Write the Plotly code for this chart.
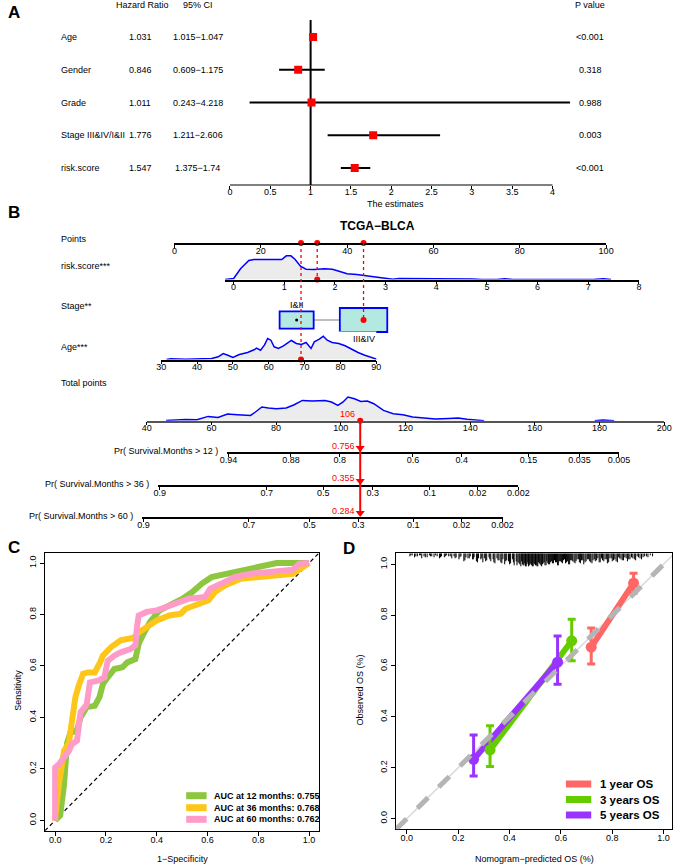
import plotly.graph_objects as go

W, H = 685, 866
FONT = "Liberation Sans, Arial, Helvetica, sans-serif"


def fx(p):
    return p / W


def fy(p):
    return 1 - p / H


# ======================= DATA =======================
# ---- Panel A: multivariate Cox forest plot ----
forest_vars = ["Age", "Gender", "Grade", "Stage III&IV/I&II", "risk.score"]
forest_hr = [1.031, 0.846, 1.011, 1.776, 1.547]
forest_lo = [1.015, 0.609, 0.243, 1.211, 1.375]
forest_hi = [1.047, 1.175, 4.218, 2.606, 1.74]
forest_p = ["<0.001", "0.318", "0.988", "0.003", "<0.001"]
forest_ticks = [0, 0.5, 1, 1.5, 2, 2.5, 3, 3.5, 4]

# ---- Panel B: nomogram ----
points_ticks = [0, 20, 40, 60, 80, 100]
risk_ticks = [0, 1, 2, 3, 4, 5, 6, 7, 8]
age_ticks = [30, 40, 50, 60, 70, 80, 90]
total_ticks = [40, 60, 80, 100, 120, 140, 160, 180, 200]

risk_dens_x = [-0.18, 0.0, 0.14, 0.30, 0.40, 0.56, 0.72, 0.85, 0.95, 1.04,
               1.13, 1.21, 1.32, 1.43, 1.59, 1.79, 1.95, 2.08, 2.24, 2.43,
               2.62, 2.82, 2.98, 3.14, 3.27, 3.53, 3.8, 4.0, 4.2, 4.5,
               4.7, 4.9, 5.2, 5.35, 5.5, 6.0, 7.1, 7.3, 7.45]
risk_dens_y = [0, 1, 11, 19, 20, 20, 19.7, 19.3, 20, 23.7,
               23.7, 20.3, 13.3, 10.3, 10, 10.7, 10.3, 8.3, 5.7, 5,
               3.7, 3, 1.3, 0.3, 1, 1, 0.3, 0.5, 1, 1,
               0.5, 0, 0, 0.8, 0, 0, 0, 0.8, 0]

age_dens_x = [31.5, 32.7, 36.8, 40.2, 44.1, 45.9, 47.3, 48.6, 50.0, 51.8,
              54.1, 55.9, 56.6, 57.7, 58.8, 59.7, 60.6, 61.5, 62.7, 64.1,
              65.1, 66.3, 67.7, 69.1, 70.4, 71.8, 72.7, 74.1, 75.2, 76.3,
              77.7, 79.5, 81.3, 83.1, 84.9, 86.8, 88.4, 89.5, 90.4]
age_dens_y = [0, 0.7, 0.3, 0.7, 1, 2.7, 6, 4.3, 2, 5,
              7, 9.7, 11.3, 9.3, 14.3, 21, 19.3, 12.7, 11, 13.7,
              16, 19, 16, 15, 17, 11, 17.7, 20.3, 23.3, 19.3,
              17, 16, 13.7, 10.3, 7, 4.3, 2.7, 1, 0]

total_dens_x = [46.0, 52.0, 55.5, 57.0, 59.0, 62.0, 65.0, 68.0, 72.1, 73.6,
                75.6, 77.6, 80.1, 83.1, 85.6, 88.1, 91.1, 95.1, 97.1, 99.1,
                100.7, 102.2, 104.2, 106.2, 108.2, 110.2, 113.2, 116.2, 119.2, 122.2,
                126.2, 129.3, 133.3, 136.3, 139.0, 141.5, 144.3]
total_dens_y = [0.3, 1.3, 1.0, 2.7, 4.3, 3.3, 6.7, 6.0, 5.3, 8.7,
                13.7, 12.7, 12.0, 12.7, 16.0, 20.3, 19.7, 20.3, 18.7, 15.3,
                18.7, 23.7, 22.0, 19.3, 19.7, 17.0, 10.3, 7.0, 6.0, 3.7,
                2.3, 1.7, 2.3, 2.6, 1.5, 0.6, 0.0]
total_tail_x = [178.5, 181.0, 184.5]
total_tail_y = [0.0, 0.6, 0.0]

stage_levels = ["I&II", "III&IV"]
stage_points = [28.3, 43.8]
stage_props = [0.34, 0.66]

obs_risk = 1.65
obs_stage = "III&IV"
obs_age = 69
obs_total = 106

pr_labels = ["Pr( Survival.Months > 12 )", "Pr( Survival.Months > 36 )",
             "Pr( Survival.Months > 60 )"]
pr12_text = ["0.94", "0.88", "0.8", "0.6", "0.4", "0.15", "0.035", "0.005"]
pr12_pts = [65.3, 84.6, 99.7, 122.3, 137.4, 158.0, 173.8, 186.0]
pr36_text = ["0.9", "0.7", "0.5", "0.3", "0.1", "0.02", "0.002"]
pr36_pts = [44.0, 77.1, 94.6, 109.9, 127.5, 142.3, 154.9]
pr60_text = ["0.9", "0.7", "0.5", "0.3", "0.1", "0.02", "0.002"]
pr60_pts = [39.0, 71.6, 90.3, 105.4, 122.4, 137.3, 150.0]
obs_pr = ["0.756", "0.355", "0.284"]

# ---- Panel C: time-dependent ROC ----
roc_names = ["AUC at 12 months: 0.755", "AUC at 36 months: 0.768", "AUC at 60 months: 0.762"]
roc12_fpr = [0, 0.02, 0.03, 0.035, 0.047, 0.06, 0.086, 0.10, 0.124, 0.156,
             0.175, 0.188, 0.207, 0.233, 0.265, 0.284, 0.316, 0.329, 0.348, 0.373,
             0.41, 0.45, 0.50, 0.54, 0.578, 0.616, 0.68, 0.77, 0.872, 1.0]
roc12_tpr = [0, 0.02, 0.10, 0.14, 0.30, 0.34, 0.35, 0.40, 0.44, 0.445,
             0.48, 0.53, 0.556, 0.588, 0.595, 0.614, 0.627, 0.686, 0.725, 0.77,
             0.815, 0.835, 0.86, 0.887, 0.92, 0.945, 0.958, 0.978, 1.0, 1.0]
roc36_fpr = [0, 0.0, 0.015, 0.035, 0.054, 0.066, 0.08, 0.092, 0.11, 0.13,
             0.156, 0.175, 0.188, 0.22, 0.258, 0.31, 0.329, 0.36, 0.40, 0.45,
             0.495, 0.514, 0.546, 0.604, 0.629, 0.668, 0.731, 0.82, 0.936, 1.0]
roc36_tpr = [0, 0.01, 0.14, 0.27, 0.30, 0.40, 0.48, 0.52, 0.57, 0.575,
             0.575, 0.61, 0.64, 0.673, 0.70, 0.71, 0.73, 0.75, 0.777, 0.796,
             0.803, 0.822, 0.835, 0.855, 0.887, 0.913, 0.939, 0.945, 0.958, 1.0]
roc60_fpr = [0, 0.0, 0.015, 0.035, 0.054, 0.066, 0.086, 0.10, 0.124, 0.137,
             0.169, 0.194, 0.207, 0.233, 0.258, 0.297, 0.316, 0.322, 0.329, 0.36,
             0.40, 0.437, 0.488, 0.527, 0.59, 0.61, 0.655, 0.706, 0.77, 0.86,
             0.936, 0.962, 1.0]
roc60_tpr = [0, 0.205, 0.218, 0.244, 0.27, 0.296, 0.31, 0.42, 0.45, 0.536,
             0.543, 0.556, 0.62, 0.64, 0.653, 0.666, 0.68, 0.75, 0.796, 0.81,
             0.816, 0.829, 0.848, 0.861, 0.868, 0.90, 0.92, 0.945, 0.958, 0.965,
             0.974, 0.997, 1.0]
roc_colors = ["#8DC63F", "#FFC61A", "#FF9BC8"]

# ---- Panel D: calibration ----
cal_names = ["1 year OS", "3 years OS", "5 years OS"]
cal_pred = [[0.718, 0.883], [0.324, 0.642], [0.260, 0.587]]
cal_obs = [[0.674, 0.926], [0.270, 0.699], [0.233, 0.615]]
cal_lo = [[0.608, 0.886], [0.205, 0.621], [0.168, 0.528]]
cal_hi = [[0.749, 0.965], [0.365, 0.784], [0.329, 0.718]]
cal_colors = ["#FF6666", "#66CC00", "#9933FF"]

rug_x = [0.012, 0.021, 0.030, 0.041, 0.049, 0.058, 0.067, 0.079, 0.088, 0.097,
         0.106, 0.118, 0.127, 0.135, 0.146, 0.155, 0.163, 0.175, 0.184, 0.192,
         0.203, 0.211, 0.222, 0.230, 0.238, 0.247, 0.256, 0.262, 0.271, 0.279,
         0.288, 0.296, 0.303, 0.311, 0.320, 0.327, 0.336, 0.343, 0.351, 0.359,
         0.366, 0.374, 0.381, 0.389, 0.396, 0.404, 0.411, 0.418, 0.426, 0.433,
         0.440, 0.447, 0.453, 0.459, 0.465, 0.471, 0.477, 0.483, 0.489, 0.495,
         0.501, 0.507, 0.513, 0.519, 0.525, 0.531, 0.538, 0.545, 0.552, 0.560,
         0.567, 0.575, 0.583, 0.590, 0.598, 0.606, 0.614, 0.622, 0.630, 0.638,
         0.646, 0.655, 0.663, 0.672, 0.680, 0.689, 0.698, 0.707, 0.716, 0.725,
         0.734, 0.744, 0.753, 0.762, 0.772, 0.781, 0.791, 0.800, 0.810, 0.820,
         0.829, 0.839, 0.849, 0.859, 0.869, 0.880, 0.891, 0.902, 0.914, 0.926,
         0.939, 0.957]
rug_len = [3, 2, 4, 3, 2, 5, 3, 4, 2, 3,
           4, 3, 5, 3, 4, 2, 3, 5, 3, 4,
           6, 3, 8, 4, 5, 3, 6, 4, 8, 5,
           6, 9, 5, 7, 4, 8, 6, 10, 5, 7,
           9, 6, 11, 7, 8, 10, 6, 12, 8, 9,
           11, 8, 12, 10, 13, 9, 12, 11, 13, 10,
           12, 13, 9, 11, 13, 10, 12, 8, 11, 9,
           10, 7, 9, 12, 8, 10, 6, 9, 11, 7,
           8, 10, 6, 9, 7, 11, 8, 6, 9, 7,
           8, 5, 9, 7, 6, 10, 5, 8, 6, 9,
           5, 7, 4, 8, 6, 5, 7, 4, 6, 3,
           4, 3]
rug_x2 = [0.016, 0.035, 0.053, 0.072, 0.092, 0.112, 0.131, 0.150, 0.169, 0.188,
          0.207, 0.226, 0.243, 0.259, 0.275, 0.292, 0.307, 0.323, 0.339, 0.355,
          0.370, 0.385, 0.400, 0.415, 0.429, 0.437, 0.444, 0.450, 0.456, 0.462,
          0.468, 0.474, 0.480, 0.486, 0.492, 0.498, 0.504, 0.510, 0.516, 0.522,
          0.528, 0.535, 0.542, 0.549, 0.556, 0.563, 0.571, 0.579, 0.587, 0.594,
          0.602, 0.610, 0.618, 0.626, 0.634, 0.642, 0.651, 0.659, 0.668, 0.676,
          0.685, 0.694, 0.703, 0.712, 0.721, 0.730, 0.739, 0.749, 0.758, 0.767,
          0.777, 0.786, 0.796, 0.805, 0.815, 0.825, 0.834, 0.844, 0.854, 0.864,
          0.875, 0.886, 0.897, 0.908, 0.920, 0.933, 0.948]
rug_len2 = [2, 3, 2, 4, 3, 2, 4, 3, 3, 5,
            4, 7, 5, 6, 9, 5, 8, 6, 9, 7,
            10, 8, 11, 9, 12, 10, 13, 11, 12, 13,
            11, 13, 10, 12, 13, 11, 12, 13, 10, 12,
            11, 9, 12, 10, 11, 8, 10, 9, 12, 8,
            9, 7, 10, 8, 11, 7, 9, 8, 6, 10,
            7, 9, 6, 8, 10, 6, 7, 9, 5, 8,
            6, 9, 5, 7, 8, 4, 6, 7, 5, 6,
            4, 6, 3, 5, 4, 3, 2]

# ======================= FIGURE =======================
fig = go.Figure()
lay = {}
shapes = []
annos = []


def esc(t):
    return t.replace("<", "&lt;").replace(">", "&gt;")


def add_text(text, x, y, xref="paper", yref="paper", size=9, color="black",
             xanchor="center", yanchor="middle", bold=False, angle=0, xshift=0):
    if xref == "paper":
        x = fx(x)
    if yref == "paper":
        y = fy(y)
    t = esc(text)
    if bold:
        t = "<b>" + t + "</b>"
    annos.append(dict(text=t, x=x, y=y, xref=xref, yref=yref, showarrow=False,
                      font=dict(size=size, color=color, family=FONT),
                      xanchor=xanchor, yanchor=yanchor, textangle=angle, xshift=xshift))


# ---------------- Panel A ----------------
A_X0, A_U, A_XMAX = 229.0, 82.8, 4.3
lay["xaxis"] = dict(domain=[fx(A_X0), fx(A_X0 + A_XMAX * A_U)], range=[0, A_XMAX], anchor="y",
                    tickvals=forest_ticks, ticktext=[f"{t:g}" for t in forest_ticks],
                    ticks="outside", ticklen=3, tickwidth=1, tickcolor="black",
                    ticklabelstandoff=-5,
                    showline=False, showgrid=False, zeroline=False,
                    tickfont=dict(size=9, color="black"))
ROW0, ROWSTEP, A_TOP, A_BOT = 37.0, 32.75, 20.0, 185.0
lay["yaxis"] = dict(domain=[fy(A_BOT), fy(A_TOP)],
                    range=[(A_BOT - ROW0) / ROWSTEP, (A_TOP - ROW0) / ROWSTEP],
                    visible=False, anchor="x")
rows = list(range(len(forest_vars)))
shapes.append(dict(type="line", xref="x", yref="y domain", x0=1, x1=1, y0=0, y1=1,
                   line=dict(color="black", width=2), layer="below"))
shapes.append(dict(type="line", xref="x", yref="y domain", x0=forest_ticks[0], x1=forest_ticks[-1],
                   y0=0, y1=0, line=dict(color="black", width=1)))
fig.add_trace(go.Scatter(
    x=forest_hr, y=rows, xaxis="x", yaxis="y", mode="markers",
    marker=dict(symbol="square", size=8, color="red"),
    error_x=dict(type="data", symmetric=False,
                 array=[h - m for h, m in zip(forest_hi, forest_hr)],
                 arrayminus=[m - l for m, l in zip(forest_hr, forest_lo)],
                 color="black", thickness=2, width=0),
    cliponaxis=False, hoverinfo="skip"))
add_text("Hazard Ratio", 139, 5)
add_text("95% CI", 196, 5)
add_text("P value", 599, 5)
for i, v in enumerate(forest_vars):
    add_text(v, 53, i, yref="y", xanchor="left")
    add_text(f"{forest_hr[i]}", 137, i, yref="y")
    add_text(f"{forest_lo[i]}\u2212{forest_hi[i]}", 196, i, yref="y")
    add_text(forest_p[i], 599, i, yref="y")
add_text("The estimates", 399, 204)
add_text("A", 7, 12.5, size=17, bold=True)

# ---------------- Panel B ----------------
axis_specs = {}


def add_axes(n, xpx, xrange, ybase, yh, yrange, showx=True, **kw):
    xa = dict(domain=[fx(xpx[0]), fx(xpx[1])], range=list(xrange), anchor=f"y{n}",
              showgrid=False, zeroline=False, showline=showx, linecolor="black", linewidth=1.5,
              ticks="outside" if showx else "", ticklen=3, tickwidth=1, tickcolor="black",
              ticklabelstandoff=-5,
              showticklabels=showx, tickfont=dict(size=9, color="black"))
    xa.update(kw)
    lay[f"xaxis{n}"] = xa
    lay[f"yaxis{n}"] = dict(domain=[fy(ybase), fy(ybase - yh)], range=list(yrange),
                            anchor=f"x{n}", visible=False)
    axis_specs[n] = (xpx[0], xpx[1], xrange[0], xrange[1])


def v2px(n, v):
    p0, p1, r0, r1 = axis_specs[n]
    return p0 + (v - r0) / (r1 - r0) * (p1 - p0)


def px2v(n, p):
    p0, p1, r0, r1 = axis_specs[n]
    return r0 + (p - p0) / (p1 - p0) * (r1 - r0)


Y_POINTS, Y_RISK, Y_STAGE, Y_AGE, Y_TOTAL = 243.0, 279.5, 320.0, 359.5, 420.7
Y_PR = [452.0, 485.0, 517.0]

add_axes(2, (172.0, 615.3), (0, 100), Y_POINTS, 10, (0, 10), tickvals=points_ticks)
add_axes(3, (224.0, 649.0), (-0.168, 8), Y_RISK, 28, (0, 28), tickvals=risk_ticks)
add_axes(4, (172.0, 615.3), (0, 100), Y_STAGE + 14, 28, (-1, 1), showx=False, visible=False)
add_axes(5, (158.3, 379.3), (30, 90), Y_AGE, 28, (0, 28), tickvals=age_ticks)
add_axes(6, (143.5, 675.0), (40, 200), Y_TOTAL, 28, (0, 28), tickvals=total_ticks,
         linecolor="#555555")
pr_ticks = [(pr12_pts, pr12_text), (pr36_pts, pr36_text), (pr60_pts, pr60_text)]
for k, (tp, tt) in enumerate(pr_ticks):
    r0, r1 = tp[0] - 0.5, tp[-1]
    add_axes(7 + k, (v2px(6, r0), v2px(6, r1)), (r0, r1), Y_PR[k], 10, (0, 10),
             tickvals=tp, ticktext=tt)
    add_text(pr_labels[k], v2px(6, r0) - 7, Y_PR[k] - 1, xanchor="right")

# densities
dens_style = dict(mode="lines", fill="tozeroy", fillcolor="#ececec",
                  line=dict(color="blue", width=1.5), hoverinfo="skip")
fig.add_trace(go.Scatter(x=risk_dens_x, y=risk_dens_y, xaxis="x3", yaxis="y3", **dens_style))
fig.add_trace(go.Scatter(x=age_dens_x, y=age_dens_y, xaxis="x5", yaxis="y5", **dens_style))
fig.add_trace(go.Scatter(x=total_dens_x, y=total_dens_y, xaxis="x6", yaxis="y6", **dens_style))
fig.add_trace(go.Scatter(x=total_tail_x, y=total_tail_y, xaxis="x6", yaxis="y6", **dens_style))

# stage boxes
BOX_W, BOX_H = 13.53, 2.107  # full width (points) and height (row units) for prop = 1
shapes.append(dict(type="line", xref="x4", yref="y4", x0=stage_points[0], x1=stage_points[1],
                   y0=0, y1=0, line=dict(color="#aaaaaa", width=1.5), layer="below"))
for sp, pr in zip(stage_points, stage_props):
    s = pr ** 0.5
    shapes.append(dict(type="rect", xref="x4", yref="y4",
                       x0=sp - BOX_W * s / 2, x1=sp + BOX_W * s / 2,
                       y0=-BOX_H * s / 2, y1=BOX_H * s / 2,
                       fillcolor="#b3e9e0", line=dict(color="blue", width=1.8), layer="below"))
add_text(stage_levels[0], stage_points[0], Y_STAGE - 15, xref="x4")
add_text(stage_levels[1], stage_points[1], Y_STAGE + 19, xref="x4")
fig.add_trace(go.Scatter(x=[stage_points[0]], y=[0], xaxis="x4", yaxis="y4", mode="markers",
                         marker=dict(size=3, color="black"), hoverinfo="skip"))

# observation -> points
pts_risk = px2v(2, v2px(3, obs_risk))
pts_age = px2v(2, v2px(5, obs_age))
pts_stage = stage_points[stage_levels.index(obs_stage)]
for pts, ytarget in [(pts_age, Y_AGE), (pts_risk, Y_RISK), (pts_stage, Y_STAGE)]:
    shapes.append(dict(type="line", xref="x2", yref="paper", x0=pts, x1=pts,
                       y0=fy(Y_POINTS), y1=fy(ytarget),
                       line=dict(color="red", width=1.3, dash="dot")))
red_dot = dict(mode="markers", marker=dict(size=6, color="red"), cliponaxis=False, hoverinfo="skip")
fig.add_trace(go.Scatter(x=[pts_age, pts_risk, pts_stage], y=[0, 0, 0], xaxis="x2", yaxis="y2", **red_dot))
fig.add_trace(go.Scatter(x=[obs_risk], y=[0], xaxis="x3", yaxis="y3", **red_dot))
fig.add_trace(go.Scatter(x=[pts_stage], y=[0], xaxis="x4", yaxis="y4", **red_dot))
fig.add_trace(go.Scatter(x=[obs_age], y=[0], xaxis="x5", yaxis="y5", **red_dot))
fig.add_trace(go.Scatter(x=[obs_total], y=[0], xaxis="x6", yaxis="y6", **red_dot))

# total -> probabilities
shapes.append(dict(type="line", xref="x6", yref="paper", x0=obs_total, x1=obs_total,
                   y0=fy(Y_TOTAL), y1=fy(Y_PR[-1] - 3), line=dict(color="red", width=2)))
for k in range(3):
    fig.add_trace(go.Scatter(x=[obs_total], y=[4], xaxis=f"x{7 + k}", yaxis=f"y{7 + k}",
                             mode="markers", marker=dict(symbol="triangle-down", size=8, color="red"),
                             cliponaxis=False, hoverinfo="skip"))
    add_text(obs_pr[k], obs_total, Y_PR[k] - 6.5, xref="x6", color="red",
             xanchor="right", xshift=-3)
add_text(f"{obs_total}", obs_total, Y_TOTAL - 7, xref="x6", color="red", xanchor="right", xshift=-3)

add_text("Points", 53, 239, xanchor="left")
add_text("risk.score***", 53, 266, xanchor="left")
add_text("Stage**", 53, 306, xanchor="left")
add_text("Age***", 53, 347, xanchor="left")
add_text("Total points", 53, 383, xanchor="left")
add_text("TCGA\u2212BLCA", 380, 226, size=12, bold=True)
add_text("B", 7, 212, size=17, bold=True)

# ---------------- Panel C ----------------
unit_ticks = [0, 0.2, 0.4, 0.6, 0.8, 1.0]
unit_text = [f"{t:.1f}" for t in unit_ticks]
frame_axis = dict(tickvals=unit_ticks, ticktext=unit_text, ticks="outside", ticklen=4,
                  tickwidth=1, tickcolor="black", showline=True, mirror=True, linecolor="black",
                  linewidth=1, showgrid=False, zeroline=False, tickfont=dict(size=9, color="black"))
lay["xaxis10"] = dict(domain=[fx(39), fx(320.7)], range=[-0.04, 1.04], anchor="y10",
                      ticklabelstandoff=-4, **frame_axis)
lay["yaxis10"] = dict(domain=[fy(830.7), fy(552.7)], range=[-0.04, 1.04], anchor="x10",
                      tickangle=-90, **frame_axis)
shapes.append(dict(type="line", xref="x10", yref="y10", x0=-0.04, y0=-0.04, x1=1.04, y1=1.04,
                   line=dict(color="black", width=1.2, dash="4px,3px"), layer="below"))
for fpr, tpr, col, nm in zip([roc12_fpr, roc36_fpr, roc60_fpr], [roc12_tpr, roc36_tpr, roc60_tpr],
                             roc_colors, roc_names):
    fig.add_trace(go.Scatter(x=fpr, y=tpr, xaxis="x10", yaxis="y10", mode="lines",
                             line=dict(color=col, width=6), name=nm, hoverinfo="skip"))
for i, (nm, col) in enumerate(zip(roc_names, roc_colors)):
    yy = [795.7, 807.7, 819.3][i]
    shapes.append(dict(type="line", xref="paper", yref="paper", x0=fx(184), x1=fx(205),
                       y0=fy(yy), y1=fy(yy), line=dict(color=col, width=7)))
    add_text(nm, 211, yy, xanchor="left", bold=True)
add_text("1\u2212Specificity", 180, 859)
add_text("Sensitivity", 11, 690, angle=-90)
add_text("C", 7, 547, size=17, bold=True)

# ---------------- Panel D ----------------
lay["xaxis11"] = dict(domain=[fx(399.3), fx(683.3)], range=[-0.043, 1.034], anchor="y11",
                      ticklabelstandoff=-4, **frame_axis)
lay["yaxis11"] = dict(domain=[fy(829.3), fy(553.3)], range=[-0.042, 1.043], anchor="x11",
                      tickangle=-90, **frame_axis)
D_TOP, D_PXU = 1.043, 254.3
rx, ry = [], []
for x, ln in zip(rug_x + rug_x2, rug_len + rug_len2):
    rx += [x, x, None]
    ry += [D_TOP, D_TOP - ln / D_PXU, None]
fig.add_trace(go.Scatter(x=rx, y=ry, xaxis="x11", yaxis="y11", mode="lines",
                         line=dict(color="black", width=1), hoverinfo="skip"))
shapes.append(dict(type="line", xref="x11", yref="y11", x0=-0.042, y0=-0.042, x1=1.034, y1=1.034,
                   line=dict(color="#d9d9d9", width=1.5), layer="below"))
for i in range(3):
    fig.add_trace(go.Scatter(x=cal_pred[i], y=cal_obs[i], xaxis="x11", yaxis="y11", mode="lines",
                             line=dict(color=cal_colors[i], width=6), hoverinfo="skip"))
for i in range(3):
    fig.add_trace(go.Scatter(
        x=cal_pred[i], y=cal_obs[i], xaxis="x11", yaxis="y11", mode="markers",
        marker=dict(size=11, color=cal_colors[i]),
        error_y=dict(type="data", symmetric=False,
                     array=[h - o for h, o in zip(cal_hi[i], cal_obs[i])],
                     arrayminus=[o - l for o, l in zip(cal_obs[i], cal_lo[i])],
                     color=cal_colors[i], thickness=3, width=4),
        hoverinfo="skip"))
shapes.append(dict(type="line", xref="x11", yref="y11", x0=-0.042, y0=-0.042, x1=1.034, y1=1.034,
                   line=dict(color="#b5b5b5", width=5, dash="dash"), layer="above"))
for i, (nm, col) in enumerate(zip(cal_names, cal_colors)):
    yy = [784.0, 799.5, 815.0][i]
    shapes.append(dict(type="line", xref="paper", yref="paper", x0=fx(574), x1=fx(600),
                       y0=fy(yy), y1=fy(yy), line=dict(color=col, width=7)))
    add_text(nm, 607, yy, xanchor="left", bold=True, size=11.5)
add_text("Nomogram\u2212predicted OS (%)", 541.7, 859)
add_text("Observed OS (%)", 363, 690, angle=-90)
add_text("D", 351, 548, size=17, bold=True)

fig.update_layout(
    width=W, height=H, margin=dict(l=0, r=0, t=0, b=0), autosize=False,
    paper_bgcolor="white", plot_bgcolor="white", showlegend=False,
    font=dict(family=FONT, size=9, color="black"),
    shapes=shapes, annotations=annos, **lay)

fig.write_html("out.html", config={"displayModeBar": False},
               post_script="document.body.style.margin='0px';document.body.style.overflow='hidden';")
